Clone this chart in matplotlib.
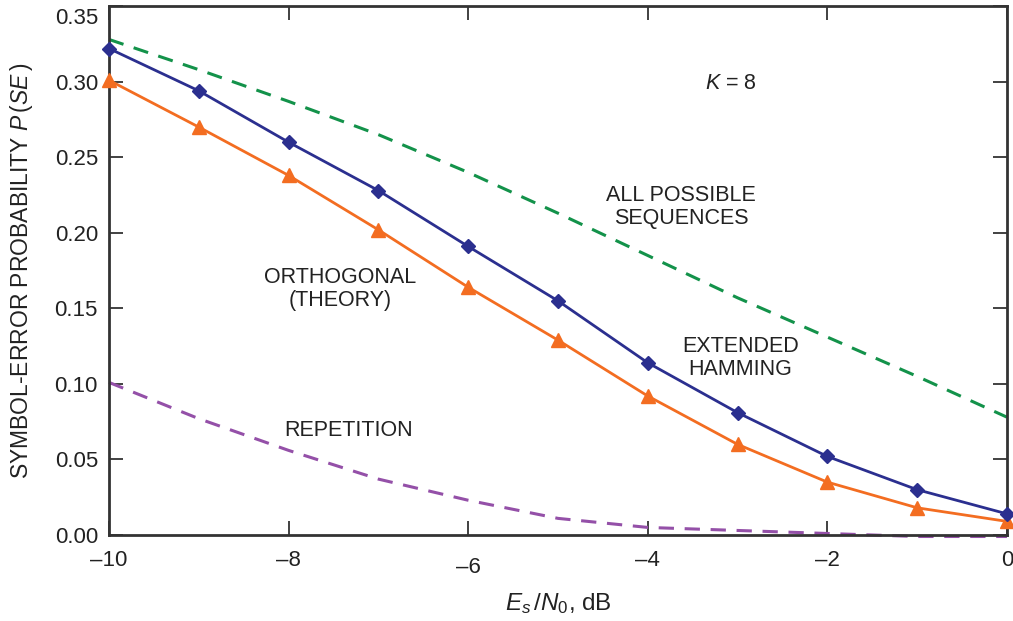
import matplotlib
matplotlib.use("Agg")
import matplotlib.pyplot as plt
import matplotlib.transforms as mtransforms

plt.rcParams['font.family'] = ['Liberation Sans', 'DejaVu Sans']
plt.rcParams['mathtext.fontset'] = 'custom'
plt.rcParams['mathtext.rm'] = 'Liberation Sans'
plt.rcParams['mathtext.it'] = 'Liberation Sans:italic'

x = [-10, -9, -8, -7, -6, -5, -4, -3, -2, -1, 0]
hamming = [0.322, 0.294, 0.260, 0.228, 0.191, 0.155, 0.114, 0.081, 0.052, 0.030, 0.014]
orthogonal = [0.301, 0.270, 0.238, 0.202, 0.164, 0.129, 0.092, 0.060, 0.035, 0.018, 0.009]
all_seq = [0.328, 0.308, 0.287, 0.265, 0.240, 0.213, 0.185, 0.157, 0.131, 0.105, 0.078]
repetition = [0.101, 0.077, 0.056, 0.037, 0.023, 0.011, 0.005, 0.003, 0.001, -0.001, -0.001]

xticks = [-10, -8, -6, -4, -2, 0]
xticklabels = ['\u201310', '\u20138', '\u20136', '\u20134', '\u20132', '0']
yticks = [0.00, 0.05, 0.10, 0.15, 0.20, 0.25, 0.30, 0.35]

fig = plt.figure(figsize=(10.13, 6.21), dpi=100)
ax = fig.add_axes([0.1076, 0.1385, 0.8864, 0.8515])

ax.plot(x, all_seq, color='#13924a', lw=2.2, ls=(0, (5, 3.5)), clip_on=False)
ax.plot(x, repetition, color='#9450a8', lw=2.2, ls=(0, (5, 3.5)), clip_on=False)
ax.plot(x, orthogonal, color='#f36d21', lw=2, marker='^', ms=10, clip_on=False, zorder=4)
ax.plot(x, hamming, color='#2b2f8f', lw=2, marker='D', ms=7, clip_on=False, zorder=5)

ax.set_xlim(-10, 0)
ax.set_ylim(0, 0.35)
ax.set_xticks(xticks)
ax.set_xticklabels(xticklabels)
ax.set_yticks(yticks)
ax.set_yticklabels([f'{v:.2f}' for v in yticks])

ax.tick_params(direction='in', length=10, width=1.3, color='#333333',
               labelsize=16, labelcolor='#222222', top=True, right=True, pad=8)
ax.tick_params(axis='x', pad=11)
for s in ax.spines.values():
    s.set_color('#333333')
    s.set_linewidth(2)

# the "-6" label sits a bit lower in the reference
lbl = ax.get_xticklabels()[2]
lbl.set_transform(lbl.get_transform() + mtransforms.ScaledTranslation(0, -7/100, fig.dpi_scale_trans))
# the top "0.35" label sits slightly below its tick
lbl = ax.get_yticklabels()[-1]
lbl.set_transform(lbl.get_transform() + mtransforms.ScaledTranslation(0, -10/100, fig.dpi_scale_trans))

ax.set_ylabel('SYMBOL-ERROR PROBABILITY $\\mathit{P}\\,$($\\mathit{SE}\\,$)', fontsize=16.5,
              color='#222222', labelpad=14)
ax.set_xlabel('$\\mathit{E_s}\\,/\\mathit{N}_0$, dB', fontsize=17.5, color='#222222', labelpad=9)

tc = '#222222'
fs = 15.5
ax.text(-3.07, 0.299, '$\\mathit{K}$ = 8', fontsize=fs, color=tc, ha='center', va='center')
ax.text(-3.63, 0.217, 'ALL POSSIBLE\nSEQUENCES', fontsize=fs, color=tc, ha='center', va='center', linespacing=1.15)
ax.text(-7.43, 0.163, 'ORTHOGONAL\n(THEORY)', fontsize=fs, color=tc, ha='center', va='center', linespacing=1.15)
ax.text(-2.97, 0.117, 'EXTENDED\nHAMMING', fontsize=fs, color=tc, ha='center', va='center', linespacing=1.15)
ax.text(-7.33, 0.069, 'REPETITION', fontsize=fs, color=tc, ha='center', va='center')

fig.savefig('out.png', dpi=100)
